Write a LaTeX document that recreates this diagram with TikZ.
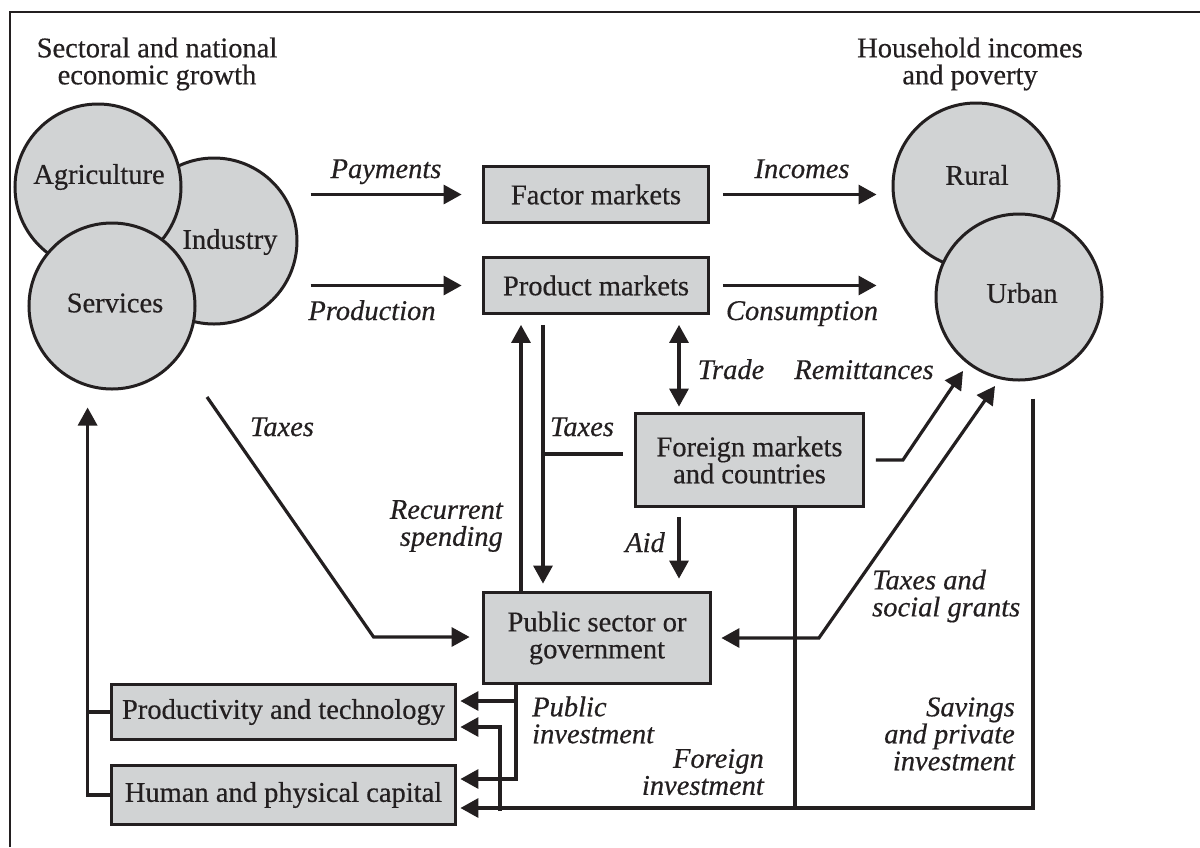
\documentclass[tikz,border=0pt]{standalone}
\usepackage{fontspec}
\setmainfont{Liberation Serif}[
  BoldFont=Liberation Serif, BoldFeatures={FakeBold=0.45},
  BoldItalicFont=Liberation Serif Italic, BoldItalicFeatures={FakeBold=0.45}]
\usetikzlibrary{arrows.meta,calc}
\definecolor{boxgray}{HTML}{D1D3D4}
\definecolor{ink}{HTML}{231F20}
\begin{document}
\begin{tikzpicture}[x=1pt,y=-1pt,
  font=\fontsize{28.5}{27}\selectfont\bfseries, text=ink,
  box/.style={draw=ink, line width=3.8pt, fill=boxgray, inner sep=0pt, align=center},
  circ/.style={circle, draw=ink, line width=3pt, fill=boxgray, minimum size=166pt, inner sep=0pt},
  lab/.style={font=\fontsize{28.5}{27}\selectfont\bfseries\itshape, inner sep=0pt},
  txt/.style={inner sep=0pt, align=center},
  conn/.style={draw=ink, line width=3.2pt},
  arr/.style={conn, -{Triangle[length=18pt,width=19pt]}},
  darr/.style={conn, {Triangle[length=18pt,width=19pt]}-{Triangle[length=18pt,width=19pt]}},
]
\useasboundingbox (0,0) rectangle (1200,847);
\fill[white] (0,0) rectangle (1200,847);
% frame
\draw[ink, line width=2.5pt] (10,847) -- (10,12) -- (1200,12);

% sector circles
\node[circ] (ind) at (214,241) {};
\node[circ] (agri) at (98,187) {};
\node[circ] (serv) at (112,306) {};
\node[txt] (agrit) at (99,177) {Agriculture};
\node[txt] (indt) at (230,242) {Industry};
\node[txt] (servt) at (115,303) {Services};

% household circles
\node[circ] (rural) at (976,186) {};
\node[circ] (urban) at (1019,297) {};
\node[txt] (ruralt) at (977,175) {Rural};
\node[txt] (urbant) at (1022,293) {Urban};

% headings
\node[txt] (sect) at (157,64) {Sectoral and national\\economic growth};
\node[txt] (hh) at (970,64) {Household incomes\\and poverty};

% boxes
\node[box, minimum width=225pt, minimum height=56pt] (fact) at (596,194.5) {Factor markets};
\node[box, minimum width=225pt, minimum height=56pt] (prod) at (596,285.5) {Product markets};
\node[box, minimum width=228pt, minimum height=93pt] (fore) at (749.5,460) {Foreign markets\\and countries};
\node[box, minimum width=227pt, minimum height=91pt] (pub) at (597,638) {Public sector or\\government};
\node[box, minimum width=344pt, minimum height=55pt] (tech) at (283.5,712) {Productivity and technology};
\node[box, minimum width=344pt, minimum height=59pt] (cap) at (283.5,795) {Human and physical capital};

% top flows
\draw[arr] ([xshift=12pt]ind.east |- fact.west) -- ([xshift=-20pt]fact.west);
\draw[arr] ([xshift=12.5pt]fact.east) -- ([xshift=-15pt]rural.west |- fact.east);
\draw[arr] ([xshift=12pt]ind.east |- prod.west) -- ([xshift=-20pt]prod.west);
\draw[arr] ([xshift=12.5pt]prod.east) -- ([xshift=-15pt]rural.west |- prod.east);

% trade
\draw[darr] ($(prod.south)+(83,9.5)$) -- ($(fore.north)+(-70.5,-5)$);

% product markets <-> government
\coordinate (dl) at ($(prod.south)+(-53,9.5)$);
\draw[arr] (dl) -- ($(pub.north)+(-54,-7)$);
\draw[arr] ($(pub.north)+(-76,0)$) -- ($(prod.south)+(-75,9.5)$);

% taxes from foreign markets
\coordinate (tx) at ($(fore.west)+(-11,-6)$);
\draw[conn] (tx) -- (dl |- tx);

% remittances
\draw[arr] ($(fore.east)+(10.5,0)$) -- ++(27,0) -- ($(urban.center)+(-56,74)$);

% taxes and social grants
\draw[darr] ($(urban.center)+(-24,89)$) -- ($(pub.east)+(106.5,0)$) -- ($(pub.east)+(9,0)$);

% aid
\draw[arr] ($(fore.south)+(-70.5,9)$) -- ($(pub.north)+(82,-12)$);

% taxes from sectors
\draw[arr] ($(serv.center)+(95,91)$) -- ($(pub.west)+(-108,-1)$) -- ($(pub.west)+(-12,-1)$);

% public investment
\coordinate (pi) at ($(pub.south)+(-81,0)$);
\coordinate (tip1) at ($(tech.east)+(3,-11)$);
\coordinate (tip2) at ($(cap.east)+(3,-16)$);
\draw[arr] (pi) |- (tip2);
\draw[arr] (pi |- tip1) -- (tip1);

% savings, foreign investment
\coordinate (sv) at ($(urban.south)+(14,17)$);
\coordinate (tip4) at ($(cap.east)+(3,13)$);
\draw[arr] (sv) |- (tip4);
\coordinate (fi) at ($(fore.south)+(45.5,0)$);
\draw[conn] (fi) -- (fi |- tip4);
\coordinate (tip3) at ($(tech.east)+(3,15)$);
\coordinate (br) at ($(tip4)+(39.5,3)$);
\draw[arr] (br) |- (tip3);

% feedback to growth
\coordinate (lf) at ($(tech.west)+(-22,0)$);
\coordinate (lt) at ($(serv.south)+(0,17)$);
\draw[arr] (tech.west) -- (lf) -- (lf |- lt);
\draw[conn] (cap.west) -| (lf);

% labels
\node[lab, anchor=base] (lpay) at (386,178) {Payments};
\node[lab, anchor=base] (linc) at (802,178) {Incomes};
\node[lab, anchor=base] (lprod) at (372,320) {Production};
\node[lab, anchor=base] (lcons) at (802,320) {Consumption};
\node[lab, anchor=base] (ltrade) at (731,379) {Trade};
\node[lab, anchor=base] (lrem) at (864,379) {Remittances};
\node[lab, anchor=base] (ltax1) at (582,436) {Taxes};
\node[lab, anchor=base] (ltax2) at (282,436) {Taxes};
\node[lab, align=right, anchor=east] (lrec) at (503,526) {Recurrent\\spending};
\node[lab, anchor=base east] (laid) at (665,552) {Aid};
\node[lab, align=left, anchor=west] (ltsg) at (872,596) {Taxes and\\social grants};
\node[lab, align=left, anchor=west] (lpi) at (532,720) {Public\\investment};
\node[lab, align=right, anchor=east] (lfi) at (764,772) {Foreign\\investment};
\node[lab, align=right, anchor=east] (lsv) at (1015,734) {Savings\\and private\\investment};
\end{tikzpicture}
\end{document}
